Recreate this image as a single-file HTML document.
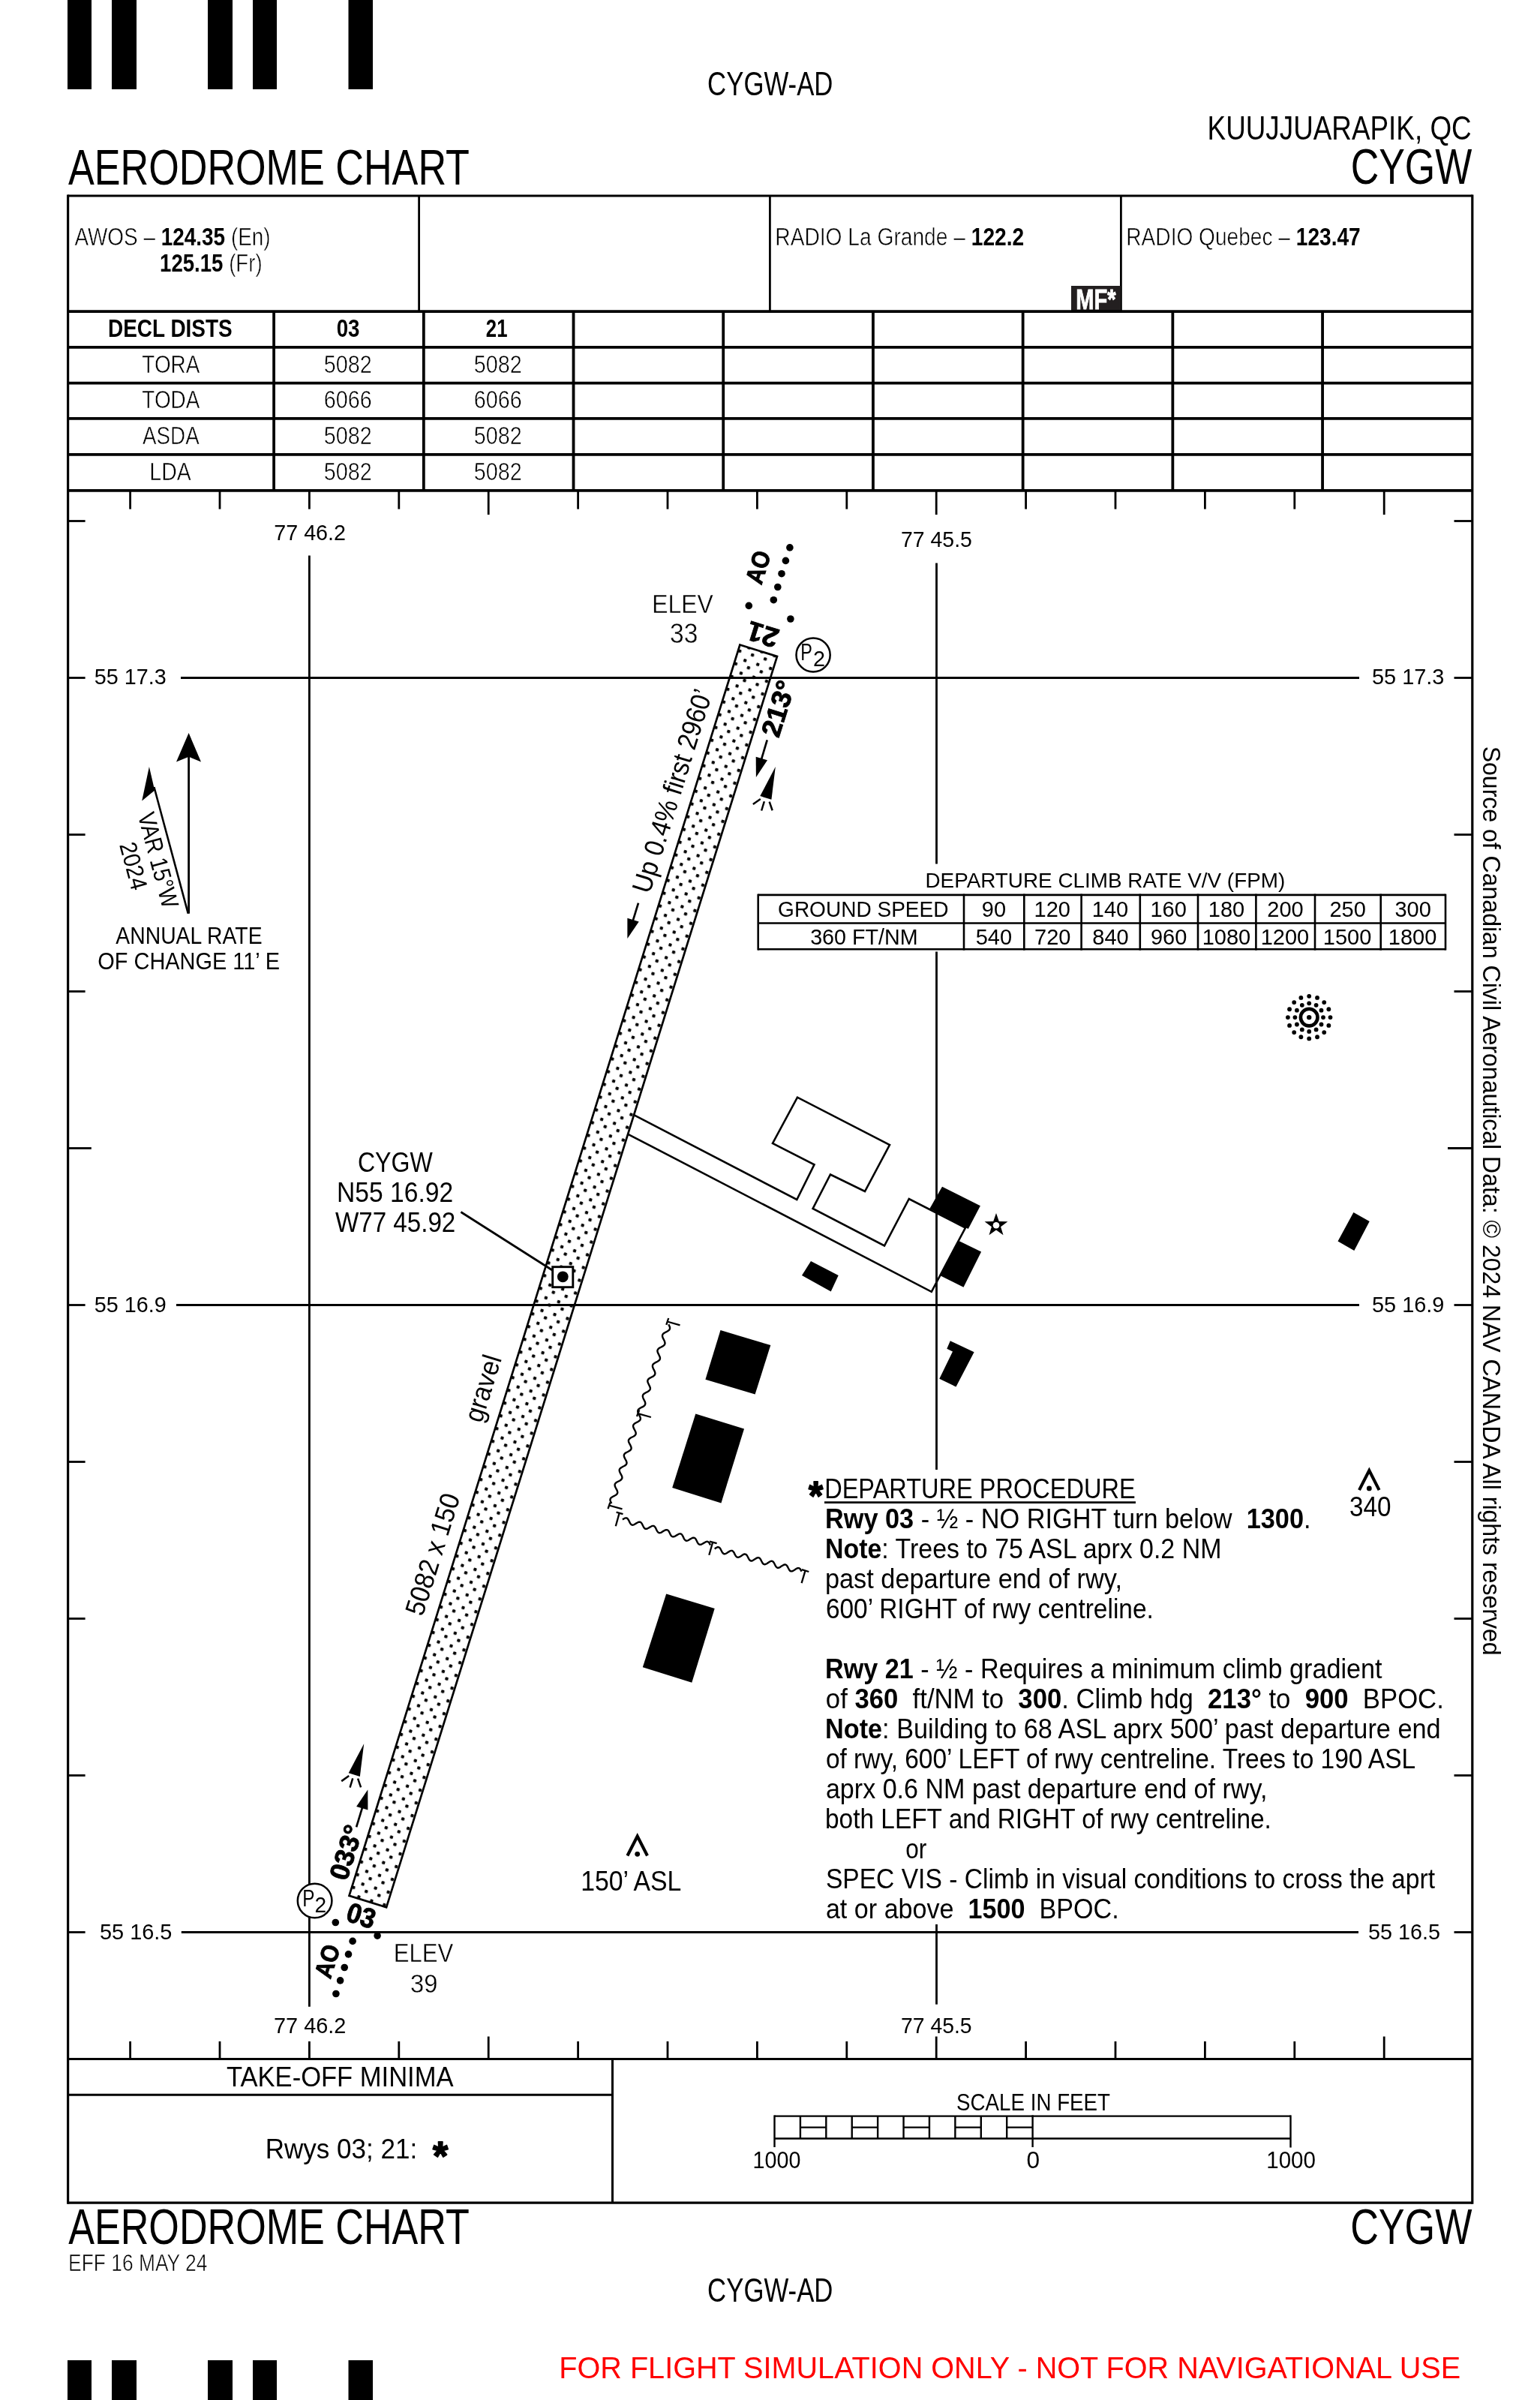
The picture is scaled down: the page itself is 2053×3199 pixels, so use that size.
<!DOCTYPE html>
<html><head><meta charset="utf-8"><title>CYGW Aerodrome Chart</title>
<style>
html,body{margin:0;padding:0;background:#fff}
svg{display:block;will-change:transform}
text{font-family:"Liberation Sans",sans-serif;white-space:pre}
</style></head><body>
<svg width="2053" height="3199" viewBox="0 0 2053 3199" stroke="#000" fill="#000">
<rect x="0" y="0" width="2053" height="3199" fill="#fff" stroke="none"/>
<g stroke="#000" fill="none">
<rect x="90.00" y="0.00" width="32.00" height="119.00" fill="#000" stroke="none"/>
<rect x="90.00" y="3146.00" width="32.00" height="60.00" fill="#000" stroke="none"/>
<rect x="149.00" y="0.00" width="33.00" height="119.00" fill="#000" stroke="none"/>
<rect x="149.00" y="3146.00" width="33.00" height="60.00" fill="#000" stroke="none"/>
<rect x="277.00" y="0.00" width="33.00" height="119.00" fill="#000" stroke="none"/>
<rect x="277.00" y="3146.00" width="33.00" height="60.00" fill="#000" stroke="none"/>
<rect x="337.00" y="0.00" width="32.00" height="119.00" fill="#000" stroke="none"/>
<rect x="337.00" y="3146.00" width="32.00" height="60.00" fill="#000" stroke="none"/>
<rect x="464.50" y="0.00" width="32.50" height="119.00" fill="#000" stroke="none"/>
<rect x="464.50" y="3146.00" width="32.50" height="60.00" fill="#000" stroke="none"/>
<line x1="90.60" y1="259.40" x2="90.60" y2="2937.80" stroke-width="3.2"/>
<line x1="1962.80" y1="259.40" x2="1962.80" y2="2937.80" stroke-width="3.2"/>
<line x1="90.60" y1="261.00" x2="1962.80" y2="261.00" stroke-width="3.2"/>
<line x1="90.60" y1="2936.20" x2="1962.80" y2="2936.20" stroke-width="3.2"/>
<line x1="558.60" y1="261.00" x2="558.60" y2="414.80" stroke-width="2.8"/>
<line x1="1026.40" y1="261.00" x2="1026.40" y2="414.80" stroke-width="2.8"/>
<line x1="1494.40" y1="261.00" x2="1494.40" y2="414.80" stroke-width="2.8"/>
<rect x="1428.00" y="381.00" width="66.00" height="33.50" fill="#231f20" stroke="none"/>
<line x1="90.60" y1="415.20" x2="1962.80" y2="415.20" stroke-width="3.8"/>
<line x1="90.60" y1="462.90" x2="1962.80" y2="462.90" stroke-width="3.8"/>
<line x1="90.60" y1="510.70" x2="1962.80" y2="510.70" stroke-width="3.8"/>
<line x1="90.60" y1="557.80" x2="1962.80" y2="557.80" stroke-width="3.8"/>
<line x1="90.60" y1="605.90" x2="1962.80" y2="605.90" stroke-width="3.8"/>
<line x1="90.60" y1="653.90" x2="1962.80" y2="653.90" stroke-width="3.8"/>
<line x1="365.10" y1="415.20" x2="365.10" y2="653.90" stroke-width="3.8"/>
<line x1="564.81" y1="415.20" x2="564.81" y2="653.90" stroke-width="3.8"/>
<line x1="764.52" y1="415.20" x2="764.52" y2="653.90" stroke-width="3.8"/>
<line x1="964.23" y1="415.20" x2="964.23" y2="653.90" stroke-width="3.8"/>
<line x1="1163.94" y1="415.20" x2="1163.94" y2="653.90" stroke-width="3.8"/>
<line x1="1363.65" y1="415.20" x2="1363.65" y2="653.90" stroke-width="3.8"/>
<line x1="1563.36" y1="415.20" x2="1563.36" y2="653.90" stroke-width="3.8"/>
<line x1="1763.07" y1="415.20" x2="1763.07" y2="653.90" stroke-width="3.8"/>
<line x1="90.60" y1="2744.50" x2="1962.80" y2="2744.50" stroke-width="3.0"/>
<line x1="173.60" y1="653.90" x2="173.60" y2="678.60" stroke-width="2.8"/>
<line x1="173.60" y1="2744.50" x2="173.60" y2="2721.00" stroke-width="2.8"/>
<line x1="293.00" y1="653.90" x2="293.00" y2="678.60" stroke-width="2.8"/>
<line x1="293.00" y1="2744.50" x2="293.00" y2="2721.00" stroke-width="2.8"/>
<line x1="412.40" y1="653.90" x2="412.40" y2="678.60" stroke-width="2.8"/>
<line x1="412.40" y1="2744.50" x2="412.40" y2="2721.00" stroke-width="2.8"/>
<line x1="531.80" y1="653.90" x2="531.80" y2="678.60" stroke-width="2.8"/>
<line x1="531.80" y1="2744.50" x2="531.80" y2="2721.00" stroke-width="2.8"/>
<line x1="651.20" y1="653.90" x2="651.20" y2="686.00" stroke-width="2.8"/>
<line x1="651.20" y1="2744.50" x2="651.20" y2="2714.50" stroke-width="2.8"/>
<line x1="770.60" y1="653.90" x2="770.60" y2="678.60" stroke-width="2.8"/>
<line x1="770.60" y1="2744.50" x2="770.60" y2="2721.00" stroke-width="2.8"/>
<line x1="890.00" y1="653.90" x2="890.00" y2="678.60" stroke-width="2.8"/>
<line x1="890.00" y1="2744.50" x2="890.00" y2="2721.00" stroke-width="2.8"/>
<line x1="1009.40" y1="653.90" x2="1009.40" y2="678.60" stroke-width="2.8"/>
<line x1="1009.40" y1="2744.50" x2="1009.40" y2="2721.00" stroke-width="2.8"/>
<line x1="1128.80" y1="653.90" x2="1128.80" y2="678.60" stroke-width="2.8"/>
<line x1="1128.80" y1="2744.50" x2="1128.80" y2="2721.00" stroke-width="2.8"/>
<line x1="1248.20" y1="653.90" x2="1248.20" y2="686.00" stroke-width="2.8"/>
<line x1="1248.20" y1="2744.50" x2="1248.20" y2="2714.50" stroke-width="2.8"/>
<line x1="1367.60" y1="653.90" x2="1367.60" y2="678.60" stroke-width="2.8"/>
<line x1="1367.60" y1="2744.50" x2="1367.60" y2="2721.00" stroke-width="2.8"/>
<line x1="1487.00" y1="653.90" x2="1487.00" y2="678.60" stroke-width="2.8"/>
<line x1="1487.00" y1="2744.50" x2="1487.00" y2="2721.00" stroke-width="2.8"/>
<line x1="1606.40" y1="653.90" x2="1606.40" y2="678.60" stroke-width="2.8"/>
<line x1="1606.40" y1="2744.50" x2="1606.40" y2="2721.00" stroke-width="2.8"/>
<line x1="1725.80" y1="653.90" x2="1725.80" y2="678.60" stroke-width="2.8"/>
<line x1="1725.80" y1="2744.50" x2="1725.80" y2="2721.00" stroke-width="2.8"/>
<line x1="1845.20" y1="653.90" x2="1845.20" y2="686.00" stroke-width="2.8"/>
<line x1="1845.20" y1="2744.50" x2="1845.20" y2="2714.50" stroke-width="2.8"/>
<line x1="90.60" y1="694.50" x2="113.60" y2="694.50" stroke-width="2.8"/>
<line x1="1962.80" y1="694.50" x2="1938.50" y2="694.50" stroke-width="2.8"/>
<line x1="90.60" y1="903.50" x2="113.60" y2="903.50" stroke-width="2.8"/>
<line x1="1962.80" y1="903.50" x2="1938.50" y2="903.50" stroke-width="2.8"/>
<line x1="90.60" y1="1112.50" x2="113.60" y2="1112.50" stroke-width="2.8"/>
<line x1="1962.80" y1="1112.50" x2="1938.50" y2="1112.50" stroke-width="2.8"/>
<line x1="90.60" y1="1321.50" x2="113.60" y2="1321.50" stroke-width="2.8"/>
<line x1="1962.80" y1="1321.50" x2="1938.50" y2="1321.50" stroke-width="2.8"/>
<line x1="90.60" y1="1530.50" x2="121.80" y2="1530.50" stroke-width="2.8"/>
<line x1="1962.80" y1="1530.50" x2="1930.00" y2="1530.50" stroke-width="2.8"/>
<line x1="90.60" y1="1739.50" x2="113.60" y2="1739.50" stroke-width="2.8"/>
<line x1="1962.80" y1="1739.50" x2="1938.50" y2="1739.50" stroke-width="2.8"/>
<line x1="90.60" y1="1948.50" x2="113.60" y2="1948.50" stroke-width="2.8"/>
<line x1="1962.80" y1="1948.50" x2="1938.50" y2="1948.50" stroke-width="2.8"/>
<line x1="90.60" y1="2157.50" x2="113.60" y2="2157.50" stroke-width="2.8"/>
<line x1="1962.80" y1="2157.50" x2="1938.50" y2="2157.50" stroke-width="2.8"/>
<line x1="90.60" y1="2366.50" x2="113.60" y2="2366.50" stroke-width="2.8"/>
<line x1="1962.80" y1="2366.50" x2="1938.50" y2="2366.50" stroke-width="2.8"/>
<line x1="90.60" y1="2575.50" x2="113.60" y2="2575.50" stroke-width="2.8"/>
<line x1="1962.80" y1="2575.50" x2="1938.50" y2="2575.50" stroke-width="2.8"/>
<defs><pattern id="grv" patternUnits="userSpaceOnUse" width="17.8" height="17.8" patternTransform="translate(986.4,859.5) rotate(17.35)"><rect x="0.7" y="6.4" width="3.2" height="3.2" rx="0.8" fill="#000"/><rect x="11.1" y="-1.4" width="3.2" height="3.2" rx="0.8" fill="#000"/><rect x="11.1" y="16.4" width="3.2" height="3.2" rx="0.8" fill="#000"/></pattern></defs>
<path d="M986.4,859.5 L1036.0,875.0 L515.1,2542.3 L465.5,2526.8 Z" fill="#fff" stroke="none"/>
<path d="M986.4,859.5 L1036.0,875.0 L515.1,2542.3 L465.5,2526.8 Z" fill="url(#grv)" stroke="#000" stroke-width="2.7"/>
<line x1="241.00" y1="903.50" x2="1812.00" y2="903.50" stroke-width="2.8"/>
<line x1="235.00" y1="1739.50" x2="1812.00" y2="1739.50" stroke-width="2.8"/>
<line x1="241.80" y1="2575.50" x2="1811.00" y2="2575.50" stroke-width="2.8"/>
<line x1="412.40" y1="740.60" x2="412.40" y2="2674.70" stroke-width="2.8"/>
<line x1="1248.50" y1="750.50" x2="1248.50" y2="1151.60" stroke-width="2.8"/>
<line x1="1248.50" y1="1268.50" x2="1248.50" y2="1959.00" stroke-width="2.8"/>
<line x1="1248.50" y1="2565.00" x2="1248.50" y2="2671.70" stroke-width="2.8"/>
<path d="M845.5,1486.4 L1062.3,1599.0 L1085.5,1552.3 L1030.0,1524.0 L1063.0,1462.7 L1186.0,1526.0 L1153.0,1588.0 L1107.0,1565.5 L1083.6,1611.0 L1179.0,1660.5 L1211.8,1598.0 L1287.0,1636.5 L1241.8,1721.8 L837.3,1511.8" fill="none" stroke="#000" stroke-width="2.6" stroke-linejoin="miter"/>
<path d="M1256.0,1581.8 L1306.9,1607.3 L1290.8,1637.9 L1239.4,1610.9 Z" fill="#000" stroke="none"/>
<path d="M1277.3,1653.5 L1308.1,1668.6 L1284.5,1715.8 L1253.4,1700.3 Z" fill="#000" stroke="none"/>
<path d="M1081.0,1681.0 L1117.7,1700.0 L1107.7,1721.4 L1069.0,1700.0 Z" fill="#000" stroke="none"/>
<path d="M960.5,1773.1 L1027.3,1793.0 L1006.6,1858.4 L940.4,1838.8 Z" fill="#000" stroke="none"/>
<path d="M927.3,1884.6 L992.0,1904.6 L961.4,2003.4 L896.2,1983.1 Z" fill="#000" stroke="none"/>
<path d="M888.2,2124.5 L952.7,2144.0 L922.3,2242.7 L856.8,2222.3 Z" fill="#000" stroke="none"/>
<path d="M1266.8,1787.3 L1298.6,1802.3 L1274.5,1848.6 L1252.3,1837.7 L1270.0,1801.4 L1262.3,1797.7 Z" fill="#000" stroke="none"/>
<path d="M1804.4,1616.0 L1825.7,1628.0 L1805.3,1667.0 L1783.5,1654.5 Z" fill="#000" stroke="none"/>
<path d="M1328.0,1617.0 L1331.8,1628.0 L1343.4,1628.2 L1334.1,1635.2 L1337.5,1646.3 L1328.0,1639.6 L1318.5,1646.3 L1321.9,1635.2 L1312.6,1628.2 L1324.2,1628.0 Z" fill="#000" stroke="none"/>
<circle cx="1328.00" cy="1633.20" r="4.30" fill="#fff" stroke="none"/>
<circle cx="1745.20" cy="1356.10" r="11.30" fill="none" stroke="#000" stroke-width="4.6"/>
<circle cx="1745.20" cy="1356.10" r="3.20" fill="#000" stroke="none"/>
<circle cx="1764.00" cy="1356.10" r="2.90" fill="#000" stroke="none"/>
<circle cx="1761.48" cy="1365.50" r="2.90" fill="#000" stroke="none"/>
<circle cx="1754.60" cy="1372.38" r="2.90" fill="#000" stroke="none"/>
<circle cx="1745.20" cy="1374.90" r="2.90" fill="#000" stroke="none"/>
<circle cx="1735.80" cy="1372.38" r="2.90" fill="#000" stroke="none"/>
<circle cx="1728.92" cy="1365.50" r="2.90" fill="#000" stroke="none"/>
<circle cx="1726.40" cy="1356.10" r="2.90" fill="#000" stroke="none"/>
<circle cx="1728.92" cy="1346.70" r="2.90" fill="#000" stroke="none"/>
<circle cx="1735.80" cy="1339.82" r="2.90" fill="#000" stroke="none"/>
<circle cx="1745.20" cy="1337.30" r="2.90" fill="#000" stroke="none"/>
<circle cx="1754.60" cy="1339.82" r="2.90" fill="#000" stroke="none"/>
<circle cx="1761.48" cy="1346.70" r="2.90" fill="#000" stroke="none"/>
<circle cx="1773.50" cy="1356.10" r="2.90" fill="#000" stroke="none"/>
<circle cx="1771.35" cy="1366.93" r="2.90" fill="#000" stroke="none"/>
<circle cx="1765.21" cy="1376.11" r="2.90" fill="#000" stroke="none"/>
<circle cx="1756.03" cy="1382.25" r="2.90" fill="#000" stroke="none"/>
<circle cx="1745.20" cy="1384.40" r="2.90" fill="#000" stroke="none"/>
<circle cx="1734.37" cy="1382.25" r="2.90" fill="#000" stroke="none"/>
<circle cx="1725.19" cy="1376.11" r="2.90" fill="#000" stroke="none"/>
<circle cx="1719.05" cy="1366.93" r="2.90" fill="#000" stroke="none"/>
<circle cx="1716.90" cy="1356.10" r="2.90" fill="#000" stroke="none"/>
<circle cx="1719.05" cy="1345.27" r="2.90" fill="#000" stroke="none"/>
<circle cx="1725.19" cy="1336.09" r="2.90" fill="#000" stroke="none"/>
<circle cx="1734.37" cy="1329.95" r="2.90" fill="#000" stroke="none"/>
<circle cx="1745.20" cy="1327.80" r="2.90" fill="#000" stroke="none"/>
<circle cx="1756.03" cy="1329.95" r="2.90" fill="#000" stroke="none"/>
<circle cx="1765.21" cy="1336.09" r="2.90" fill="#000" stroke="none"/>
<circle cx="1771.35" cy="1345.27" r="2.90" fill="#000" stroke="none"/>
<line x1="614.40" y1="1615.50" x2="737.00" y2="1693.50" stroke-width="2.7"/>
<rect x="736.7" y="1688.7" width="27.1" height="27" fill="#fff" stroke="#000" stroke-width="2.9"/>
<circle cx="750.30" cy="1701.80" r="7.40" fill="#000" stroke="none"/>
<path d="M1812.0,1986.1 L1825.3,1960.1 L1838.6,1986.1" fill="none" stroke="#000" stroke-width="4.1" stroke-linejoin="miter" stroke-miterlimit="10"/>
<circle cx="1825.30" cy="1983.90" r="3.40" fill="#000" stroke="none"/>
<path d="M836.4,2473.5 L849.7,2447.5 L863.0,2473.5" fill="none" stroke="#000" stroke-width="4.1" stroke-linejoin="miter" stroke-miterlimit="10"/>
<circle cx="849.70" cy="2471.30" r="3.40" fill="#000" stroke="none"/>
<circle cx="1052.90" cy="729.90" r="4.80" fill="#000" stroke="none"/>
<circle cx="1047.40" cy="747.40" r="4.80" fill="#000" stroke="none"/>
<circle cx="1042.00" cy="764.70" r="4.80" fill="#000" stroke="none"/>
<circle cx="1036.80" cy="782.50" r="4.80" fill="#000" stroke="none"/>
<circle cx="1031.30" cy="799.70" r="4.80" fill="#000" stroke="none"/>
<circle cx="998.30" cy="807.40" r="4.80" fill="#000" stroke="none"/>
<circle cx="1053.90" cy="825.00" r="4.80" fill="#000" stroke="none"/>
<circle cx="447.30" cy="2562.50" r="4.80" fill="#000" stroke="none"/>
<circle cx="503.10" cy="2580.10" r="4.80" fill="#000" stroke="none"/>
<circle cx="470.10" cy="2587.40" r="4.80" fill="#000" stroke="none"/>
<circle cx="464.50" cy="2604.90" r="4.80" fill="#000" stroke="none"/>
<circle cx="459.20" cy="2622.50" r="4.80" fill="#000" stroke="none"/>
<circle cx="453.60" cy="2639.90" r="4.80" fill="#000" stroke="none"/>
<circle cx="447.90" cy="2657.50" r="4.80" fill="#000" stroke="none"/>
<circle cx="1084.10" cy="873.00" r="22.60" fill="#fff" stroke="#000" stroke-width="2.5"/>
<circle cx="419.60" cy="2533.50" r="22.80" fill="#fff" stroke="#000" stroke-width="2.5"/>
<line x1="1022.70" y1="986.40" x2="1014.78" y2="1012.91" stroke-width="2.7"/>
<path d="M1007.9,1035.9 L1007.7,1008.7 L1023.0,1013.3 Z" fill="#000" stroke="none"/>
<line x1="475.10" y1="2435.30" x2="483.31" y2="2408.36" stroke-width="2.7"/>
<path d="M490.3,2385.4 L490.4,2412.6 L475.1,2407.9 Z" fill="#000" stroke="none"/>
<line x1="851.00" y1="1203.60" x2="843.46" y2="1228.06" stroke-width="2.7"/>
<path d="M836.4,1251.0 L836.4,1223.8 L851.7,1228.5 Z" fill="#000" stroke="none"/>
<path d="M1033.8,1022.1 L1013.3,1061.1 L1028.4,1065.8 Z" fill="#000" stroke="none"/>
<line x1="1013.80" y1="1064.99" x2="1003.84" y2="1072.04" stroke-width="2.5"/>
<line x1="1018.86" y1="1068.24" x2="1015.14" y2="1080.49" stroke-width="2.5"/>
<line x1="1025.67" y1="1068.59" x2="1029.68" y2="1080.22" stroke-width="2.5"/>
<path d="M485.2,2324.2 L464.7,2363.2 L479.8,2367.9 Z" fill="#000" stroke="none"/>
<line x1="465.20" y1="2367.09" x2="455.24" y2="2374.14" stroke-width="2.5"/>
<line x1="470.26" y1="2370.34" x2="466.54" y2="2382.59" stroke-width="2.5"/>
<line x1="477.07" y1="2370.69" x2="481.08" y2="2382.32" stroke-width="2.5"/>
<path d="M891.3,1765.3 L892.1,1767.0 L892.8,1768.6 L893.1,1770.0 L892.9,1771.4 L892.2,1772.6 L891.1,1773.6 L889.7,1774.5 L888.0,1775.4 L886.4,1776.2 L884.9,1777.1 L883.8,1778.2 L883.2,1779.3 L883.0,1780.7 L883.3,1782.2 L883.9,1783.8 L884.8,1785.4 L885.6,1787.1 L886.2,1788.7 L886.5,1790.2 L886.3,1791.5 L885.7,1792.7 L884.6,1793.7 L883.1,1794.6 L881.5,1795.5 L879.8,1796.3 L878.4,1797.2 L877.3,1798.3 L876.6,1799.5 L876.4,1800.8 L876.7,1802.3 L877.4,1803.9 L878.2,1805.5 L879.0,1807.2 L879.7,1808.8 L880.0,1810.3 L879.8,1811.6 L879.1,1812.8 L878.0,1813.8 L876.6,1814.7 L874.9,1815.6 L873.3,1816.4 L871.8,1817.4 L870.7,1818.4 L870.1,1819.6 L869.9,1820.9 L870.2,1822.4 L870.8,1824.0 L871.6,1825.7 L872.5,1827.3 L873.1,1828.9 L873.4,1830.4 L873.2,1831.7 L872.6,1832.9 L871.5,1833.9 L870.0,1834.9 L868.4,1835.7 L866.7,1836.6 L865.3,1837.5 L864.2,1838.5 L863.5,1839.7 L863.3,1841.0 L863.6,1842.5 L864.3,1844.1 L865.1,1845.8 L865.9,1847.4 L866.6,1849.0 L866.9,1850.5 L866.7,1851.8 L866.0,1853.0 L864.9,1854.1 L863.5,1855.0 L861.8,1855.8 L860.2,1856.7 L858.7,1857.6 L857.6,1858.6 L857.0,1859.8 L856.8,1861.1 L857.1,1862.6 L857.7,1864.2 L858.5,1865.9 L859.4,1867.5 L860.0,1869.1 L860.3,1870.6 L860.1,1872.0 L859.5,1873.1 L858.4,1874.2 L856.9,1875.1 L855.3,1875.9 L853.6,1876.8 L852.2,1877.7 L851.1,1878.7 L850.4,1879.9 L850.2,1881.3 L850.5,1882.7 L851.2,1884.3 L852.0,1886.0" fill="none" stroke="#000" stroke-width="2.4" stroke-linejoin="round"/>
<path d="M852.0,1886.0 L852.9,1887.6 L853.5,1889.2 L853.9,1890.6 L853.7,1891.9 L853.1,1893.1 L852.0,1894.1 L850.6,1895.0 L848.9,1895.8 L847.3,1896.7 L845.9,1897.6 L844.8,1898.6 L844.2,1899.7 L844.0,1901.0 L844.4,1902.5 L845.0,1904.1 L845.9,1905.7 L846.7,1907.3 L847.4,1908.8 L847.7,1910.3 L847.6,1911.6 L847.0,1912.7 L845.9,1913.8 L844.4,1914.7 L842.8,1915.5 L841.2,1916.3 L839.8,1917.2 L838.7,1918.3 L838.0,1919.4 L837.9,1920.7 L838.2,1922.2 L838.9,1923.7 L839.8,1925.3 L840.6,1926.9 L841.3,1928.5 L841.6,1930.0 L841.5,1931.3 L840.9,1932.4 L839.8,1933.4 L838.3,1934.3 L836.7,1935.2 L835.1,1936.0 L833.6,1936.9 L832.6,1937.9 L831.9,1939.1 L831.8,1940.4 L832.1,1941.8 L832.8,1943.4 L833.6,1945.0 L834.5,1946.6 L835.2,1948.2 L835.5,1949.6 L835.4,1950.9 L834.7,1952.1 L833.7,1953.1 L832.2,1954.0 L830.6,1954.8 L829.0,1955.7 L827.5,1956.6 L826.4,1957.6 L825.8,1958.7 L825.7,1960.0 L826.0,1961.5 L826.7,1963.1 L827.5,1964.7 L828.4,1966.3 L829.1,1967.8 L829.4,1969.3 L829.3,1970.6 L828.6,1971.7 L827.5,1972.8 L826.1,1973.7 L824.5,1974.5 L822.9,1975.3 L821.4,1976.2 L820.3,1977.3 L819.7,1978.4 L819.6,1979.7 L819.9,1981.2 L820.6,1982.7 L821.4,1984.3 L822.3,1985.9 L822.9,1987.5 L823.3,1989.0 L823.1,1990.3 L822.5,1991.4 L821.4,1992.4 L820.0,1993.3 L818.4,1994.2 L816.7,1995.0 L815.3,1995.9 L814.2,1996.9 L813.6,1998.1 L813.4,1999.4 L813.8,2000.8 L814.4,2002.4 L815.3,2004.0" fill="none" stroke="#000" stroke-width="2.4" stroke-linejoin="round"/>
<path d="M829.9,2025.4 L831.4,2024.5 L832.8,2023.7 L834.2,2023.4 L835.4,2023.4 L836.4,2024.0 L837.3,2025.1 L838.1,2026.4 L838.9,2028.0 L839.7,2029.6 L840.5,2031.0 L841.4,2032.0 L842.5,2032.6 L843.7,2032.7 L845.0,2032.3 L846.4,2031.6 L847.9,2030.6 L849.4,2029.7 L850.8,2029.0 L852.2,2028.6 L853.4,2028.7 L854.4,2029.3 L855.3,2030.3 L856.2,2031.7 L856.9,2033.3 L857.7,2034.8 L858.5,2036.2 L859.4,2037.3 L860.5,2037.8 L861.7,2037.9 L863.0,2037.5 L864.4,2036.8 L865.9,2035.9 L867.4,2035.0 L868.9,2034.2 L870.2,2033.9 L871.4,2033.9 L872.4,2034.5 L873.4,2035.6 L874.2,2036.9 L874.9,2038.5 L875.7,2040.1 L876.5,2041.5 L877.4,2042.5 L878.5,2043.1 L879.7,2043.2 L881.0,2042.8 L882.5,2042.1 L883.9,2041.1 L885.4,2040.2 L886.9,2039.5 L888.2,2039.1 L889.4,2039.2 L890.5,2039.8 L891.4,2040.8 L892.2,2042.2 L893.0,2043.8 L893.7,2045.3 L894.5,2046.7 L895.5,2047.8 L896.5,2048.3 L897.7,2048.4 L899.0,2048.0 L900.5,2047.3 L902.0,2046.4 L903.5,2045.5 L904.9,2044.7 L906.2,2044.4 L907.4,2044.4 L908.5,2045.0 L909.4,2046.0 L910.2,2047.4 L911.0,2049.0 L911.7,2050.6 L912.5,2052.0 L913.5,2053.0 L914.5,2053.6 L915.7,2053.7 L917.1,2053.3 L918.5,2052.6 L920.0,2051.6 L921.5,2050.7 L922.9,2050.0 L924.2,2049.6 L925.4,2049.7 L926.5,2050.3 L927.4,2051.3 L928.2,2052.7 L929.0,2054.3 L929.7,2055.8 L930.6,2057.2 L931.5,2058.3 L932.5,2058.8 L933.7,2058.9 L935.1,2058.5 L936.5,2057.8 L938.0,2056.9 L939.5,2056.0 L940.9,2055.2 L942.2,2054.8 L943.4,2054.9 L944.5,2055.5 L945.4,2056.5 L946.2,2057.9 L947.0,2059.5" fill="none" stroke="#000" stroke-width="2.4" stroke-linejoin="round"/>
<path d="M952.7,2064.4 L954.1,2063.4 L955.5,2062.7 L956.8,2062.2 L958.0,2062.3 L959.1,2062.8 L960.0,2063.8 L960.8,2065.2 L961.6,2066.7 L962.4,2068.3 L963.2,2069.6 L964.2,2070.6 L965.2,2071.2 L966.4,2071.2 L967.7,2070.8 L969.1,2070.0 L970.5,2069.0 L972.0,2068.1 L973.4,2067.3 L974.7,2066.9 L975.8,2066.9 L976.9,2067.5 L977.8,2068.5 L978.7,2069.8 L979.4,2071.4 L980.2,2072.9 L981.1,2074.3 L982.0,2075.3 L983.0,2075.8 L984.2,2075.9 L985.5,2075.4 L986.9,2074.7 L988.4,2073.7 L989.8,2072.7 L991.2,2071.9 L992.5,2071.5 L993.7,2071.6 L994.7,2072.1 L995.7,2073.1 L996.5,2074.5 L997.3,2076.0 L998.1,2077.6 L998.9,2078.9 L999.8,2079.9 L1000.9,2080.5 L1002.1,2080.5 L1003.4,2080.1 L1004.7,2079.3 L1006.2,2078.3 L1007.6,2077.4 L1009.0,2076.6 L1010.3,2076.2 L1011.5,2076.2 L1012.6,2076.8 L1013.5,2077.8 L1014.3,2079.1 L1015.1,2080.7 L1015.9,2082.2 L1016.7,2083.6 L1017.7,2084.6 L1018.7,2085.1 L1019.9,2085.2 L1021.2,2084.7 L1022.6,2084.0 L1024.0,2083.0 L1025.5,2082.0 L1026.9,2081.2 L1028.2,2080.8 L1029.3,2080.9 L1030.4,2081.4 L1031.3,2082.4 L1032.2,2083.8 L1032.9,2085.3 L1033.7,2086.9 L1034.6,2088.2 L1035.5,2089.2 L1036.5,2089.8 L1037.7,2089.8 L1039.0,2089.4 L1040.4,2088.6 L1041.9,2087.6 L1043.3,2086.7 L1044.7,2085.9 L1046.0,2085.5 L1047.2,2085.5 L1048.2,2086.0 L1049.1,2087.0 L1050.0,2088.4 L1050.8,2090.0 L1051.6,2091.5 L1052.4,2092.9 L1053.3,2093.9 L1054.4,2094.4 L1055.5,2094.4 L1056.8,2094.0 L1058.2,2093.2 L1059.7,2092.3 L1061.1,2091.3 L1062.5,2090.5 L1063.8,2090.1 L1065.0,2090.1 L1066.0,2090.7 L1067.0,2091.7 L1067.8,2093.1 L1068.6,2094.6" fill="none" stroke="#000" stroke-width="2.4" stroke-linejoin="round"/>
<line x1="906.50" y1="1766.30" x2="889.40" y2="1761.50" stroke-width="2.3"/>
<line x1="891.20" y1="1757.00" x2="888.30" y2="1765.80" stroke-width="2.3"/>
<line x1="867.90" y1="1889.00" x2="850.40" y2="1884.20" stroke-width="2.3"/>
<line x1="852.30" y1="1879.30" x2="849.00" y2="1888.00" stroke-width="2.3"/>
<line x1="829.50" y1="2011.40" x2="811.80" y2="2006.50" stroke-width="2.3"/>
<line x1="813.40" y1="2002.60" x2="810.50" y2="2011.20" stroke-width="2.3"/>
<line x1="820.80" y1="2034.20" x2="825.70" y2="2016.60" stroke-width="2.3"/>
<line x1="821.60" y1="2015.70" x2="830.50" y2="2018.20" stroke-width="2.3"/>
<line x1="945.30" y1="2072.80" x2="950.10" y2="2056.00" stroke-width="2.3"/>
<line x1="945.90" y1="2054.60" x2="955.60" y2="2057.20" stroke-width="2.3"/>
<line x1="1068.60" y1="2110.20" x2="1073.50" y2="2093.60" stroke-width="2.3"/>
<line x1="1069.00" y1="2092.20" x2="1078.30" y2="2095.00" stroke-width="2.3"/>
<line x1="251.60" y1="1217.70" x2="251.60" y2="1005.00" stroke-width="2.8"/>
<path d="M251.6,977.0 L235.0,1015.6 L251.6,1008.8 L268.0,1015.6 Z" fill="#000" stroke="none"/>
<line x1="250.80" y1="1217.70" x2="205.40" y2="1049.00" stroke-width="2.6"/>
<path d="M198.9,1022.0 L189.2,1067.5 L206.2,1053.5 Z" fill="#000" stroke="none"/>
<line x1="1010.70" y1="1192.90" x2="1927.00" y2="1192.90" stroke-width="2.6"/>
<line x1="1010.70" y1="1230.50" x2="1927.00" y2="1230.50" stroke-width="2.6"/>
<line x1="1010.70" y1="1265.30" x2="1927.00" y2="1265.30" stroke-width="2.6"/>
<line x1="1010.70" y1="1191.60" x2="1010.70" y2="1266.60" stroke-width="2.6"/>
<line x1="1285.00" y1="1191.60" x2="1285.00" y2="1266.60" stroke-width="2.6"/>
<line x1="1365.30" y1="1191.60" x2="1365.30" y2="1266.60" stroke-width="2.6"/>
<line x1="1441.60" y1="1191.60" x2="1441.60" y2="1266.60" stroke-width="2.6"/>
<line x1="1519.80" y1="1191.60" x2="1519.80" y2="1266.60" stroke-width="2.6"/>
<line x1="1597.00" y1="1191.60" x2="1597.00" y2="1266.60" stroke-width="2.6"/>
<line x1="1674.40" y1="1191.60" x2="1674.40" y2="1266.60" stroke-width="2.6"/>
<line x1="1753.00" y1="1191.60" x2="1753.00" y2="1266.60" stroke-width="2.6"/>
<line x1="1840.70" y1="1191.60" x2="1840.70" y2="1266.60" stroke-width="2.6"/>
<line x1="1927.00" y1="1191.60" x2="1927.00" y2="1266.60" stroke-width="2.6"/>
<line x1="90.60" y1="2792.20" x2="816.50" y2="2792.20" stroke-width="3.0"/>
<line x1="816.50" y1="2744.50" x2="816.50" y2="2936.20" stroke-width="3.0"/>
<line x1="1032.50" y1="2820.60" x2="1720.50" y2="2820.60" stroke-width="2.4"/>
<line x1="1032.50" y1="2850.50" x2="1720.50" y2="2850.50" stroke-width="2.4"/>
<line x1="1032.50" y1="2819.40" x2="1032.50" y2="2862.00" stroke-width="2.4"/>
<line x1="1376.60" y1="2819.40" x2="1376.60" y2="2862.00" stroke-width="2.4"/>
<line x1="1720.50" y1="2819.40" x2="1720.50" y2="2862.50" stroke-width="2.4"/>
<line x1="1066.91" y1="2820.60" x2="1066.91" y2="2850.50" stroke-width="2.4"/>
<line x1="1101.32" y1="2820.60" x2="1101.32" y2="2850.50" stroke-width="2.4"/>
<line x1="1135.73" y1="2820.60" x2="1135.73" y2="2850.50" stroke-width="2.4"/>
<line x1="1170.14" y1="2820.60" x2="1170.14" y2="2850.50" stroke-width="2.4"/>
<line x1="1204.55" y1="2820.60" x2="1204.55" y2="2850.50" stroke-width="2.4"/>
<line x1="1238.96" y1="2820.60" x2="1238.96" y2="2850.50" stroke-width="2.4"/>
<line x1="1273.37" y1="2820.60" x2="1273.37" y2="2850.50" stroke-width="2.4"/>
<line x1="1307.78" y1="2820.60" x2="1307.78" y2="2850.50" stroke-width="2.4"/>
<line x1="1342.19" y1="2820.60" x2="1342.19" y2="2850.50" stroke-width="2.4"/>
<line x1="1066.91" y1="2835.60" x2="1101.32" y2="2835.60" stroke-width="2.4"/>
<line x1="1135.73" y1="2835.60" x2="1170.14" y2="2835.60" stroke-width="2.4"/>
<line x1="1204.55" y1="2835.60" x2="1238.96" y2="2835.60" stroke-width="2.4"/>
<line x1="1273.37" y1="2835.60" x2="1307.78" y2="2835.60" stroke-width="2.4"/>
<line x1="1342.19" y1="2835.60" x2="1376.60" y2="2835.60" stroke-width="2.4"/>
<line x1="1099.00" y1="2002.70" x2="1514.00" y2="2002.70" stroke-width="2.8"/>
</g>
<g stroke="none" xml:space="preserve">
<text transform="translate(1038.04,1222.00) translate(-0.97,0) scale(0.9670,1)" font-size="29">GROUND SPEED</text>
<text transform="translate(1081.12,1259.40) translate(-0.99,0) scale(0.9900,1)" font-size="29">360 FT/NM</text>
<text transform="translate(1309.78,1222.00) translate(-1.00,0) scale(1.0000,1)" font-size="29">90</text>
<text transform="translate(1301.72,1259.40) translate(-1.00,0) scale(1.0000,1)" font-size="29">540</text>
<text transform="translate(1380.52,1222.00) translate(-2.00,0) scale(1.0000,1)" font-size="29">120</text>
<text transform="translate(1380.02,1259.40) translate(-1.00,0) scale(1.0000,1)" font-size="29">720</text>
<text transform="translate(1457.77,1222.00) translate(-2.00,0) scale(1.0000,1)" font-size="29">140</text>
<text transform="translate(1457.27,1259.40) translate(-1.00,0) scale(1.0000,1)" font-size="29">840</text>
<text transform="translate(1535.47,1222.00) translate(-2.00,0) scale(1.0000,1)" font-size="29">160</text>
<text transform="translate(1534.97,1259.40) translate(-1.00,0) scale(1.0000,1)" font-size="29">960</text>
<text transform="translate(1612.77,1222.00) translate(-2.00,0) scale(1.0000,1)" font-size="29">180</text>
<text transform="translate(1604.71,1259.40) translate(-2.00,0) scale(1.0000,1)" font-size="29">1080</text>
<text transform="translate(1690.27,1222.00) translate(-1.00,0) scale(1.0000,1)" font-size="29">200</text>
<text transform="translate(1682.71,1259.40) translate(-2.00,0) scale(1.0000,1)" font-size="29">1200</text>
<text transform="translate(1773.42,1222.00) translate(-1.00,0) scale(1.0000,1)" font-size="29">250</text>
<text transform="translate(1765.86,1259.40) translate(-2.00,0) scale(1.0000,1)" font-size="29">1500</text>
<text transform="translate(1860.42,1222.00) translate(-1.00,0) scale(1.0000,1)" font-size="29">300</text>
<text transform="translate(1852.86,1259.40) translate(-2.00,0) scale(1.0000,1)" font-size="29">1800</text>
<text transform="translate(944.70,126.90) translate(-1.60,0) scale(0.7994,1)" font-size="43.5">CYGW-AD</text>
<text transform="translate(944.70,3067.60) translate(-1.60,0) scale(0.7994,1)" font-size="43.5">CYGW-AD</text>
<text transform="translate(91.00,245.50) translate(0.00,0) scale(0.7901,1)" font-size="66">AERODROME CHART</text>
<text transform="translate(91.20,2990.70) translate(0.00,0) scale(0.7898,1)" font-size="66">AERODROME CHART</text>
<text transform="translate(1612.00,185.50) translate(-2.44,0) scale(0.8134,1)" font-size="45.3">KUUJJUARAPIK, QC</text>
<text transform="translate(1803.00,245.30) translate(-2.36,0) scale(0.7880,1)" font-size="66">CYGW</text>
<text transform="translate(1802.50,2990.70) translate(-2.37,0) scale(0.7905,1)" font-size="66">CYGW</text>
<text transform="translate(92.70,3026.60) translate(-1.65,0) scale(0.8252,1)" font-size="32"><tspan stroke="#fff" stroke-width="0.6">EFF 16 MAY 24</tspan></text>
<text transform="translate(748.20,3169.50) translate(-2.92,0) scale(0.9736,1)" font-size="40.7" fill="#ff0000">FOR FLIGHT SIMULATION ONLY - NOT FOR NAVIGATIONAL USE</text>
<text transform="translate(99.40,327.40) translate(0.00,0) scale(0.8388,1)" font-size="33.3"><tspan stroke="#fff" stroke-width="0.6">AWOS – </tspan><tspan font-weight="bold">124.35</tspan><tspan stroke="#fff" stroke-width="0.6"> (En)</tspan></text>
<text transform="translate(214.70,361.50) translate(-1.66,0) scale(0.8291,1)" font-size="33.3"><tspan font-weight="bold">125.15</tspan><tspan stroke="#fff" stroke-width="0.6"> (Fr)</tspan></text>
<text transform="translate(1035.00,327.40) translate(-1.69,0) scale(0.8464,1)" font-size="33.3"><tspan stroke="#fff" stroke-width="0.6">RADIO La Grande – </tspan><tspan font-weight="bold">122.2</tspan></text>
<text transform="translate(1503.00,327.40) translate(-1.69,0) scale(0.8445,1)" font-size="33.3"><tspan stroke="#fff" stroke-width="0.6">RADIO Quebec – </tspan><tspan font-weight="bold">123.47</tspan></text>
<text transform="translate(1435.80,412.00) translate(-1.56,0) scale(0.7807,1)" font-size="37.3" fill="#fff" stroke="#fff" stroke-width="0.9"><tspan font-weight="bold">MF*</tspan></text>
<text transform="translate(145.70,448.70) translate(-1.67,0) scale(0.8349,1)" font-size="33.5"><tspan font-weight="bold">DECL DISTS</tspan></text>
<text transform="translate(449.50,448.70) translate(-0.83,0) scale(0.8278,1)" font-size="33.5"><tspan font-weight="bold">03</tspan></text>
<text transform="translate(648.60,448.70) translate(-0.77,0) scale(0.7689,1)" font-size="33.5"><tspan font-weight="bold">21</tspan></text>
<text transform="translate(189.35,496.80) translate(0.00,0) scale(0.8209,1)" font-size="34"><tspan stroke="#fff" stroke-width="0.6">TORA</tspan></text>
<text transform="translate(432.70,496.80) translate(-0.84,0) scale(0.8450,1)" font-size="34"><tspan stroke="#fff" stroke-width="0.6">5082</tspan></text>
<text transform="translate(632.70,496.80) translate(-0.84,0) scale(0.8450,1)" font-size="34"><tspan stroke="#fff" stroke-width="0.6">5082</tspan></text>
<text transform="translate(189.35,544.43) translate(0.00,0) scale(0.8209,1)" font-size="34"><tspan stroke="#fff" stroke-width="0.6">TODA</tspan></text>
<text transform="translate(432.70,544.43) translate(-0.84,0) scale(0.8450,1)" font-size="34"><tspan stroke="#fff" stroke-width="0.6">6066</tspan></text>
<text transform="translate(632.70,544.43) translate(-0.84,0) scale(0.8450,1)" font-size="34"><tspan stroke="#fff" stroke-width="0.6">6066</tspan></text>
<text transform="translate(190.00,592.06) translate(0.00,0) scale(0.8179,1)" font-size="34"><tspan stroke="#fff" stroke-width="0.6">ASDA</tspan></text>
<text transform="translate(432.70,592.06) translate(-0.84,0) scale(0.8450,1)" font-size="34"><tspan stroke="#fff" stroke-width="0.6">5082</tspan></text>
<text transform="translate(632.70,592.06) translate(-0.84,0) scale(0.8450,1)" font-size="34"><tspan stroke="#fff" stroke-width="0.6">5082</tspan></text>
<text transform="translate(201.00,639.69) translate(-1.68,0) scale(0.8377,1)" font-size="34"><tspan stroke="#fff" stroke-width="0.6">LDA</tspan></text>
<text transform="translate(432.70,639.69) translate(-0.84,0) scale(0.8450,1)" font-size="34"><tspan stroke="#fff" stroke-width="0.6">5082</tspan></text>
<text transform="translate(632.70,639.69) translate(-0.84,0) scale(0.8450,1)" font-size="34"><tspan stroke="#fff" stroke-width="0.6">5082</tspan></text>
<text transform="translate(366.20,720.40) translate(-0.97,0) scale(0.9736,1)" font-size="29.5">77 46.2</text>
<text transform="translate(1202.00,729.20) translate(-0.96,0) scale(0.9636,1)" font-size="29.5">77 45.5</text>
<text transform="translate(366.00,2709.50) translate(-0.98,0) scale(0.9789,1)" font-size="29.5">77 46.2</text>
<text transform="translate(1202.00,2709.50) translate(-0.96,0) scale(0.9615,1)" font-size="29.5">77 45.5</text>
<text transform="translate(126.80,912.10) translate(-0.97,0) scale(0.9739,1)" font-size="29.5">55 17.3</text>
<text transform="translate(1830.00,912.10) translate(-0.98,0) scale(0.9791,1)" font-size="29.5">55 17.3</text>
<text transform="translate(126.80,1748.60) translate(-0.97,0) scale(0.9739,1)" font-size="29.5">55 16.9</text>
<text transform="translate(1830.00,1748.60) translate(-0.98,0) scale(0.9791,1)" font-size="29.5">55 16.9</text>
<text transform="translate(134.00,2585.00) translate(-0.98,0) scale(0.9791,1)" font-size="29.5">55 16.5</text>
<text transform="translate(1825.00,2585.20) translate(-0.97,0) scale(0.9739,1)" font-size="29.5">55 16.5</text>
<text transform="translate(154.30,1257.70) translate(0.00,0) scale(0.9264,1)" font-size="30.6">ANNUAL RATE</text>
<text transform="translate(131.30,1292.30) translate(-0.95,0) scale(0.9456,1)" font-size="30.6">OF CHANGE 11’ E</text>
<text transform="translate(183.40,1086.40) rotate(75.00) translate(0.00,0) scale(0.8497,1)" font-size="32.5">VAR 15°W</text>
<text transform="translate(159.30,1126.80) rotate(75.00) translate(-0.91,0) scale(0.9079,1)" font-size="32">2024</text>
<text transform="translate(871.00,817.00) translate(-1.80,0) scale(0.8978,1)" font-size="35.5"><tspan stroke="#fff" stroke-width="0.4">ELEV</tspan></text>
<text transform="translate(894.00,856.50) translate(-0.93,0) scale(0.9336,1)" font-size="36"><tspan stroke="#fff" stroke-width="0.4">33</tspan></text>
<text transform="translate(526.50,2615.40) translate(-1.75,0) scale(0.8743,1)" font-size="35.5"><tspan stroke="#fff" stroke-width="0.4">ELEV</tspan></text>
<text transform="translate(548.00,2655.50) translate(-0.91,0) scale(0.9099,1)" font-size="36"><tspan stroke="#fff" stroke-width="0.4">39</tspan></text>
<text transform="translate(477.80,1561.80) translate(-0.87,0) scale(0.8670,1)" font-size="37">CYGW</text>
<text transform="translate(451.80,1601.80) translate(-2.72,0) scale(0.9081,1)" font-size="37">N55 16.92</text>
<text transform="translate(446.90,1641.80) translate(0.00,0) scale(0.8970,1)" font-size="37">W77 45.92</text>
<text transform="translate(1800.00,2020.90) translate(-0.90,0) scale(0.8993,1)" font-size="37">340</text>
<text transform="translate(776.00,2519.60) translate(-1.83,0) scale(0.9148,1)" font-size="37">150’ ASL</text>
<text transform="translate(1015.00,780.50) rotate(-72.65) translate(0.00,0) scale(0.8908,1)" font-size="33" stroke="#000" stroke-width="0.9"><tspan font-weight="bold">AO</tspan></text>
<text transform="translate(440.60,2638.80) rotate(-72.65) translate(0.00,0) scale(0.9011,1)" font-size="33" stroke="#000" stroke-width="0.9"><tspan font-weight="bold">AO</tspan></text>
<text transform="translate(1038.40,983.50) rotate(-72.65) translate(-1.02,0) scale(1.0240,1)" font-size="36" stroke="#000" stroke-width="0.9"><tspan font-weight="bold">213°</tspan></text>
<text transform="translate(462.60,2507.30) rotate(-72.65) translate(-1.00,0) scale(0.9990,1)" font-size="36" stroke="#000" stroke-width="0.9"><tspan font-weight="bold">033°</tspan></text>
<text transform="translate(1039.50,839.80) rotate(197.35) translate(-1.03,0) scale(1.0303,1)" font-size="36.5" stroke="#000" stroke-width="0.9"><tspan font-weight="bold">21</tspan></text>
<text transform="translate(460.40,2560.10) rotate(17.35) translate(-0.93,0) scale(0.9348,1)" font-size="37" stroke="#000" stroke-width="0.9"><tspan font-weight="bold">03</tspan></text>
<text transform="translate(866.60,1190.80) rotate(-72.65) translate(-1.83,0) scale(0.9149,1)" font-size="36.5">Up 0.4% first 2960’</text>
<text transform="translate(563.90,2154.70) rotate(-72.65) translate(-0.93,0) scale(0.9308,1)" font-size="36.5">5082 x 150</text>
<text transform="translate(642.20,1896.90) rotate(-72.65) translate(-0.92,0) scale(0.9178,1)" font-size="36.5">gravel</text>
<text transform="translate(1068.80,879.90) translate(-1.51,0) scale(0.7551,1)" font-size="31">P</text>
<text transform="translate(1085.00,887.90) translate(-0.96,0) scale(0.9598,1)" font-size="30">2</text>
<text transform="translate(404.90,2540.60) translate(-1.57,0) scale(0.7829,1)" font-size="31">P</text>
<text transform="translate(420.50,2548.90) translate(-0.93,0) scale(0.9332,1)" font-size="30">2</text>
<text transform="translate(1235.40,1182.50) translate(-1.96,0) scale(0.9778,1)" font-size="28.5">DEPARTURE CLIMB RATE V/V (FPM)</text>
<text transform="translate(1276.00,2813.40) translate(-0.91,0) scale(0.9068,1)" font-size="30.6">SCALE IN FEET</text>
<text transform="translate(1005.50,2889.90) translate(-1.88,0) scale(0.9378,1)" font-size="30.6">1000</text>
<text transform="translate(1369.50,2889.90) translate(-1.03,0) scale(1.0333,1)" font-size="30.6">0</text>
<text transform="translate(1690.20,2889.90) translate(-1.93,0) scale(0.9654,1)" font-size="30.6">1000</text>
<text transform="translate(302.00,2780.60) translate(0.00,0) scale(0.9600,1)" font-size="36">TAKE-OFF MINIMA</text>
<text transform="translate(356.60,2876.50) translate(-2.84,0) scale(0.9470,1)" font-size="37">Rwys 03; 21:</text>
<text transform="translate(577.00,2892.20) translate(0.00,0) scale(0.9619,1)" font-size="54" stroke="#000" stroke-width="1.8" stroke-linejoin="round"><tspan font-weight="bold">*</tspan></text>
<text transform="translate(1077.90,2012.30) translate(0.00,0) scale(0.9095,1)" font-size="54" stroke="#000" stroke-width="1.8" stroke-linejoin="round"><tspan font-weight="bold">*</tspan></text>
<text transform="translate(1976.90,995.60) rotate(90.00) translate(-0.94,0) scale(0.9422,1)" font-size="34">Source of Canadian Civil Aeronautical Data: © 2024 NAV CANADA All rights reserved</text>
<text transform="translate(1101.80,1996.75) translate(-2.64,0) scale(0.8796,1)" font-size="37">DEPARTURE PROCEDURE</text>
<text transform="translate(1101.80,2036.80) translate(-1.85,0) scale(0.9274,1)" font-size="37"><tspan font-weight="bold">Rwy 03</tspan> - ½ - NO RIGHT turn below  <tspan font-weight="bold">1300</tspan>.</text>
<text transform="translate(1101.80,2076.85) translate(-1.83,0) scale(0.9169,1)" font-size="37"><tspan font-weight="bold">Note</tspan>: Trees to 75 ASL aprx 0.2 NM</text>
<text transform="translate(1101.80,2116.90) translate(-1.85,0) scale(0.9274,1)" font-size="37">past departure end of rwy,</text>
<text transform="translate(1101.80,2156.95) translate(-0.90,0) scale(0.9044,1)" font-size="37">600’ RIGHT of rwy centreline.</text>
<text transform="translate(1101.80,2237.05) translate(-1.85,0) scale(0.9238,1)" font-size="37"><tspan font-weight="bold">Rwy 21</tspan> - ½ - Requires a minimum climb gradient</text>
<text transform="translate(1101.80,2277.10) translate(-0.94,0) scale(0.9381,1)" font-size="37">of <tspan font-weight="bold">360</tspan>  ft/NM to  <tspan font-weight="bold">300</tspan>. Climb hdg  <tspan font-weight="bold">213°</tspan> to  <tspan font-weight="bold">900</tspan>  BPOC.</text>
<text transform="translate(1101.80,2317.15) translate(-1.85,0) scale(0.9268,1)" font-size="37"><tspan font-weight="bold">Note</tspan>: Building to 68 ASL aprx 500’ past departure end</text>
<text transform="translate(1101.80,2357.20) translate(-0.90,0) scale(0.9050,1)" font-size="37">of rwy, 600’ LEFT of rwy centreline. Trees to 190 ASL</text>
<text transform="translate(1101.80,2397.25) translate(-0.92,0) scale(0.9216,1)" font-size="37">aprx 0.6 NM past departure end of rwy,</text>
<text transform="translate(1101.80,2437.30) translate(-1.81,0) scale(0.9032,1)" font-size="37">both LEFT and RIGHT of rwy centreline.</text>
<text transform="translate(1208.00,2477.35) translate(-0.85,0) scale(0.8548,1)" font-size="37">or</text>
<text transform="translate(1101.80,2517.40) translate(-0.91,0) scale(0.9082,1)" font-size="37">SPEC VIS - Climb in visual conditions to cross the aprt</text>
<text transform="translate(1101.80,2557.45) translate(-0.92,0) scale(0.9227,1)" font-size="37">at or above  <tspan font-weight="bold">1500</tspan>  BPOC.</text>
</g>
</svg>
</body></html>
